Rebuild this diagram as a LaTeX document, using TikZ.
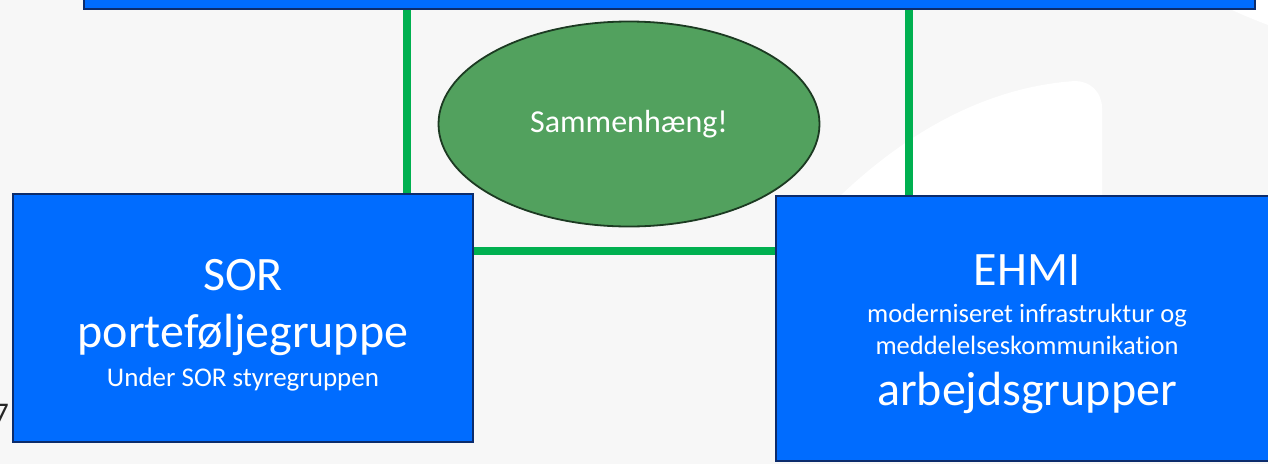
\documentclass[tikz,border=0pt]{standalone}
\usepackage{fontspec}
\setmainfont{Carlito}[Ligatures=CommonOff]
\usetikzlibrary{calc}
\usetikzlibrary{shapes}
\definecolor{boxblue}{RGB}{0,108,255}
\definecolor{boxedge}{RGB}{12,44,108}
\definecolor{linkgreen}{RGB}{0,176,80}
\definecolor{ovalgreen}{RGB}{82,161,94}
\definecolor{ovaledge}{RGB}{28,58,34}
\definecolor{slidegray}{RGB}{247,247,247}
\tikzset{
  group/.style={draw=boxedge, fill=boxblue, line width=2pt, inner sep=0pt},
  link/.style={draw=linkgreen, line width=7.5pt},
}
\newcommand{\txtline}[5]{\node[anchor=base, text=white, inner sep=0pt, font=\fontsize{#4}{#4}\selectfont] (#1) at ( #2 , #3 ) {#5};}

\begin{document}
\begin{tikzpicture}[x=1pt,y=-1pt]
        \useasboundingbox (0,0) rectangle (1268,464);
        \clip (0,0) rectangle (1268,464);
        % background
        \fill[slidegray] (0,0) rectangle (1268,464);
        \fill[white] (840,196) .. controls (920,120) and (1000,86) .. (1075,81) .. controls (1090,81) and (1102,92) .. (1102,108) -- (1102,196) -- cycle;
        \fill[white] (1228,8) .. controls (1240,14) and (1255,20) .. (1268,25) -- (1268,0) -- (1228,0) -- cycle;
        % boxes
        \node[group, minimum width=1171pt, minimum height=60pt] (top) at (669.5,-21) {};
        \node[group, minimum width=460pt, minimum height=248pt] (sor) at (243,318) {};
        \node[group, minimum width=502pt, minimum height=265pt] (ehmi) at (1027,328.5) {};
        % links
        \draw[link] ([xshift=164pt]sor.north) -- ([xshift=164pt]sor.north |- top.south);
        \draw[link] ([xshift=-118pt]ehmi.north) -- ([xshift=-118pt]ehmi.north |- top.south);
        \draw[link] ([yshift=67pt]sor.east) -- ([yshift=67pt]sor.east -| ehmi.west);
        % oval
        \node[ellipse, draw=ovaledge, fill=ovalgreen, line width=1.8pt, minimum width=381pt, minimum height=205pt, inner sep=0pt, text=white, font=\fontsize{32}{32}\selectfont] (oval) at (629,124) {Sammenhæng!};
        % text left box
        \txtline{sorname}{243}{290}{48}{SOR}
        \txtline{sorgroup}{243}{347}{48}{porteføljegruppe}
        \txtline{sorsub}{243}{386}{27}{Under SOR styregruppen}
        % text right box
        \txtline{ehminame}{1027}{285}{48}{EHMI}
        \txtline{ehmisub}{1027}{322}{26.5}{moderniseret infrastruktur og}
        \txtline{ehmisubb}{1027}{354}{26.5}{meddelelseskommunikation}
        \txtline{ehmigroup}{1027}{405}{48}{arbejdsgrupper}
        % page number
        \node[anchor=base east, inner sep=0pt, text=black!85, font=\fontsize{30}{30}\selectfont] (pagenum) at (9,423) {7};
\end{tikzpicture}
\end{document}
